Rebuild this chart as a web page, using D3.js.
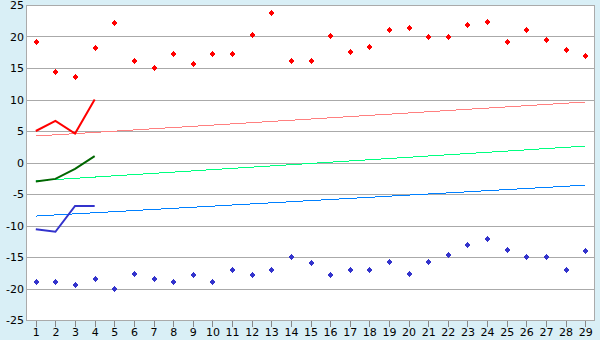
<!DOCTYPE html>
<html>
<head>
<meta charset="utf-8">
<script src="https://cdn.jsdelivr.net/npm/d3@7"></script>
<style>
  body { margin: 0; background: #d9eff6; }
  svg { display: block; }
</style>
</head>
<body>
<svg id="chart" width="600" height="340"></svg>
<script>
//  data
const days = d3.range(1, 30);
const highs = [19.1, 14.3, 13.5, 18.1, 22.1, 16.1, 15.0, 17.2, 15.7, 17.2,
               17.3, 20.2, 23.8, 16.1, 16.1, 20.0, 17.5, 18.4, 21.0, 21.3,
               19.9, 19.9, 21.8, 22.3, 19.1, 21.0, 19.4, 17.8, 16.9];
const lows = [-19.0, -18.9, -19.5, -18.5, -20.0, -17.7, -18.5, -18.9, -17.9, -18.9,
              -17.1, -17.9, -17.1, -15.0, -16.0, -17.9, -17.1, -17.1, -15.8, -17.7,
              -15.8, -14.7, -13.1, -12.2, -13.9, -15.0, -15.0, -17.1, -14.1];
const recentDays = [1, 2, 3, 4];
const recentMax = [5.0, 6.6, 4.6, 10.0];
const recentMean = [-3.0, -2.6, -1.0, 1.0];
const recentMin = [-10.6, -11.0, -6.9, -6.9];
const trendDays = [1, 29];
const trendMax = [4.2, 9.6];
const trendMean = [-2.9, 2.6];
const trendMin = [-8.5, -3.6];
const yTicks = [-25, -20, -15, -10, -5, 0, 5, 10, 15, 20, 25];

const margin = ({top: 5, right: 5, bottom: 20, left: 26});
const w = 600, h = 340;
const svg = d3.select("#chart");

const x = d3.scaleLinear().domain([0.5, 29.5]).range([margin.left, w - margin.right]);
const y = d3.scaleLinear().domain([-25, 25]).range([h - margin.bottom, margin.top]);

//  plot background
svg.append("rect")
   .attr("x", x(0.5)).attr("y", y(25))
   .attr("width", x(29.5) - x(0.5)).attr("height", y(-25) - y(25))
   .attr("fill", "white");

//  grid
svg.append("g")
   .selectAll("line")
   .data(yTicks)
   .join("line")
   .attr("x1", x(0.5)).attr("x2", x(29.5))
   .attr("y1", d => Math.round(y(d)) + 0.5).attr("y2", d => Math.round(y(d)) + 0.5)
   .attr("stroke", "#aaaaaa");

//  left / right borders
svg.append("line")
   .attr("x1", Math.round(x(0.5)) + 0.5).attr("x2", Math.round(x(0.5)) + 0.5)
   .attr("y1", y(25)).attr("y2", y(-25))
   .attr("stroke", "#aaaaaa");
svg.append("line")
   .attr("x1", Math.round(x(29.5)) - 0.5).attr("x2", Math.round(x(29.5)) - 0.5)
   .attr("y1", y(25)).attr("y2", y(-25))
   .attr("stroke", "#aaaaaa");

//  y labels
svg.append("g")
   .attr("transform", `translate(${margin.left},0)`)
   .call(d3.axisLeft(y).tickValues(yTicks).tickSize(0).tickPadding(2).tickFormat(d => String(d)))
   .call(g => g.select(".domain").remove())
   .call(g => g.selectAll("text").attr("fill", "#000").style("font", "11px 'DejaVu Sans'"));

//  x axis
svg.append("g")
   .attr("transform", `translate(0,${Math.round(y(-25)) + 0.5})`)
   .call(d3.axisBottom(x).tickValues(days).tickSize(6).tickPadding(2).tickFormat(d => String(d)))
   .call(g => g.select(".domain").remove())
   .call(g => g.selectAll("line").attr("stroke", "#888888").attr("shape-rendering", "crispEdges"))
   .call(g => g.selectAll("text").attr("fill", "#000").style("font", "11px 'DejaVu Sans'"));

//  trend lines
const line = d3.line().x(d => x(d[0])).y(d => y(d[1]));

[[trendMax, "#ff8080"], [trendMean, "#00ff80"], [trendMin, "#0080ff"]].forEach(([vals, color]) => {
  svg.append("path")
     .attr("d", line(trendDays.map((d, i) => [d, vals[i]])))
     .attr("fill", "none")
     .attr("stroke", color)
     .attr("stroke-width", 1)
     .attr("shape-rendering", "crispEdges");
});

//  recent lines
[[recentMax, "#ff0000"], [recentMean, "#006600"], [recentMin, "#3333cc"]].forEach(([vals, color]) => {
  svg.append("path")
     .attr("d", line(recentDays.map((d, i) => [d, vals[i]])))
     .attr("fill", "none")
     .attr("stroke", color)
     .attr("stroke-width", 2);
});

//  markers
const diamond = "M0,-3L3,0L0,3L-3,0Z";

svg.append("g")
   .selectAll("path")
   .data(days)
   .join("path")
   .attr("d", diamond)
   .attr("transform", (d, i) => `translate(${Math.round(x(d))},${Math.round(y(highs[i]))})`)
   .attr("fill", "#ff0000")
   .attr("shape-rendering", "crispEdges");

svg.append("g")
   .selectAll("path")
   .data(days)
   .join("path")
   .attr("d", diamond)
   .attr("transform", (d, i) => `translate(${Math.round(x(d))},${Math.round(y(lows[i]))})`)
   .attr("fill", "#3333cc")
   .attr("shape-rendering", "crispEdges");
</script>
</body>
</html>
